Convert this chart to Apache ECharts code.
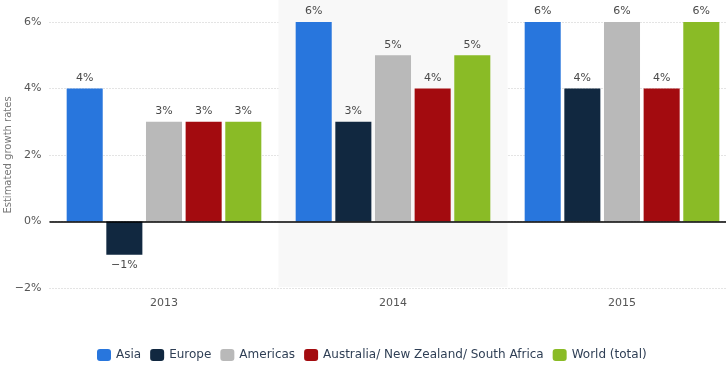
<!DOCTYPE html>
<html><head><meta charset="utf-8">
<script src="https://cdn.jsdelivr.net/npm/echarts@6/dist/echarts.min.js"></script>
<style>html,body{margin:0;padding:0;background:#fff}#c{width:726px;height:368px}</style>
</head><body><div id="c"></div>
<script>
var categories = ['2013', '2014', '2015'];
var seriesNames = ['Asia', 'Europe', 'Americas', 'Australia/ New Zealand/ South Africa', 'World (total)'];
var asia = [4, 6, 6];
var europe = [-1, 3, 4];
var americas = [3, 5, 6];
var australia = [3, 4, 4];
var world = [3, 5, 6];
var colors = ['#2876dd', '#112840', '#b9b9b9', '#a30b0f', '#8abb26'];
var yTicks = [-2, 0, 2, 4, 6];

function fmt(v) { return (v < 0 ? '\u2212' + Math.abs(v) : v) + '%'; }

var allData = [asia, europe, americas, australia, world];
var series = allData.map(function (arr, i) {
  return {
    name: seriesNames[i], type: 'bar', xAxisIndex: 0, yAxisIndex: 0,
    barGap: '10%', barCategoryGap: '15%',
    itemStyle: { color: colors[i] },
    label: { show: true, position: 'top', distance: 5, color: '#4a4a4a', fontSize: 11,
      fontFamily: 'DejaVu Sans', formatter: function (p) { return fmt(p.value); } },
    data: arr.map(function (v) {
      return v < 0 ? { value: v, label: { position: 'bottom' } } : v;
    }),
    markLine: i === 0 ? { silent: true, symbol: 'none', label: { show: false },
      lineStyle: { color: '#000', type: 'solid', width: 1.5 }, data: [{ yAxis: 0 }] } : undefined
  };
});

var chart = echarts.init(document.getElementById('c'), null, { renderer: 'canvas' });
chart.setOption({
  animation: false,
  legend: { bottom: 2, left: 92, itemWidth: 14, itemHeight: 12, itemGap: 9,
    icon: 'roundRect',
    textStyle: { color: '#2f3f55', fontSize: 12, fontFamily: 'DejaVu Sans' },
    data: seriesNames },
  grid: [
    { left: 49.5, right: -10.5, top: 22, bottom: 80, containLabel: false, outerBoundsMode: 'none' },
    { left: 49.5, right: -10.5, top: 0, bottom: 81, containLabel: false, outerBoundsMode: 'none' }
  ],
  xAxis: [
    { type: 'category', gridIndex: 0, data: categories,
      axisLine: { show: false }, axisTick: { show: false },
      axisLabel: { color: '#555', fontSize: 11, margin: 10, fontFamily: 'DejaVu Sans' } },
    { type: 'category', gridIndex: 1, data: categories, show: true,
      axisLine: { show: false }, axisTick: { show: false }, axisLabel: { show: false },
      splitArea: { show: true, areaStyle: { color: ['rgba(0,0,0,0)', '#f8f8f8'] } } }
  ],
  yAxis: [
    { type: 'value', gridIndex: 0, min: -2, max: 6, interval: 2,
      name: 'Estimated growth rates', nameLocation: 'middle', nameGap: 36, nameMoveOverlap: false,
      nameTextStyle: { color: '#777', fontSize: 10, fontFamily: 'DejaVu Sans' },
      axisLine: { show: false }, axisTick: { show: false },
      axisLabel: { color: '#555', fontSize: 11, margin: 8, fontFamily: 'DejaVu Sans',
        formatter: function (v) { return fmt(v); } },
      splitLine: { lineStyle: { color: '#c8c8c8', type: [1, 2], width: 1 } } },
    { type: 'value', gridIndex: 1, show: false, min: 0, max: 1 }
  ],
  series: series
});
</script></body></html>
